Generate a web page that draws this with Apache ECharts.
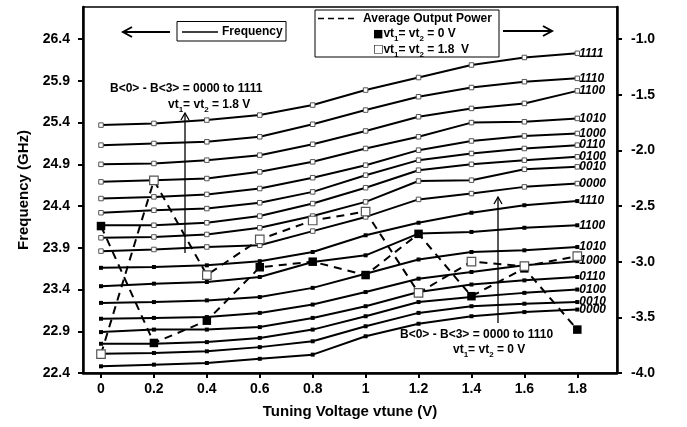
<!DOCTYPE html>
<html>
<head>
<meta charset="utf-8">
<script src="https://cdn.jsdelivr.net/npm/echarts@6/dist/echarts.min.js"></script>
<style>html,body{margin:0;padding:0;background:#fff}#c{width:687px;height:427px}</style>
</head>
<body>
<div id="c"></div>
<script>
// ---- data ----
const tuneV = [0, 0.2, 0.4, 0.6, 0.8, 1.0, 1.2, 1.4, 1.6, 1.8];
const freqTicks = [22.4, 22.9, 23.4, 23.9, 24.4, 24.9, 25.4, 25.9, 26.4];
const powerTicks = [-4.0, -3.5, -3.0, -2.5, -2.0, -1.5, -1.0];

// Frequency (GHz), vt1 = vt2 = 1.8 V (hollow markers)
const f18_1111 = [25.37, 25.39, 25.43, 25.49, 25.61, 25.79, 25.94, 26.09, 26.18, 26.23];
const f18_1110 = [25.13, 25.15, 25.17, 25.23, 25.38, 25.55, 25.71, 25.82, 25.89, 25.93];
const f18_1100 = [24.90, 24.91, 24.95, 25.01, 25.14, 25.30, 25.47, 25.57, 25.63, 25.78];
const f18_1010 = [24.69, 24.71, 24.73, 24.81, 24.93, 25.09, 25.23, 25.40, 25.41, 25.45];
const f18_1000 = [24.49, 24.51, 24.54, 24.61, 24.74, 24.89, 25.07, 25.18, 25.24, 25.27];
const f18_0110 = [24.32, 24.35, 24.37, 24.44, 24.57, 24.77, 24.95, 25.03, 25.09, 25.13];
const f18_0100 = [24.17, 24.17, 24.20, 24.28, 24.43, 24.62, 24.83, 24.90, 24.95, 24.99];
const f18_0010 = [24.02, 24.03, 24.06, 24.14, 24.28, 24.45, 24.70, 24.71, 24.84, 24.87];
const f18_0000 = [23.86, 23.88, 23.91, 23.93, 24.10, 24.27, 24.48, 24.55, 24.63, 24.67];

// Frequency (GHz), vt1 = vt2 = 0 V (filled markers)
const f0_1110 = [23.66, 23.67, 23.69, 23.74, 23.85, 24.05, 24.20, 24.32, 24.41, 24.46];
const f0_1100 = [23.44, 23.47, 23.49, 23.55, 23.73, 23.81, 24.07, 24.09, 24.14, 24.17];
const f0_1010 = [23.24, 23.25, 23.27, 23.31, 23.42, 23.59, 23.76, 23.85, 23.87, 23.91];
const f0_1000 = [23.05, 23.06, 23.07, 23.12, 23.22, 23.37, 23.53, 23.61, 23.69, 23.74];
const f0_0110 = [22.89, 22.92, 22.92, 22.95, 23.06, 23.20, 23.37, 23.46, 23.51, 23.55];
const f0_0100 = [22.75, 22.75, 22.77, 22.82, 22.92, 23.08, 23.25, 23.31, 23.36, 23.40];
const f0_0010 = [22.63, 22.64, 22.66, 22.71, 22.78, 22.96, 23.12, 23.20, 23.23, 23.25];
const f0_0000 = [22.48, 22.50, 22.52, 22.57, 22.62, 22.84, 22.99, 23.08, 23.13, 23.16];

// Average output power (right axis)
const powVt0 = [-2.68, -3.73, -3.53, -3.05, -3.00, -3.12, -2.75, -3.31, -3.06, -3.61];
const powVt18 = [-3.83, -2.27, -3.12, -2.80, -2.63, -2.55, -3.28, -3.00, -3.04, -2.95];

const hiLines = [['1111', f18_1111], ['1110', f18_1110], ['1100', f18_1100], ['1010', f18_1010],
  ['1000', f18_1000], ['0110', f18_0110], ['0100', f18_0100], ['0010', f18_0010], ['0000', f18_0000]];
const loLines = [['1110', f0_1110], ['1100', f0_1100], ['1010', f0_1010], ['1000', f0_1000],
  ['0110', f0_0110], ['0100', f0_0100], ['0010', f0_0010], ['0000', f0_0000]];

// ---- chart ----
const FF = '"Liberation Sans", Arial, sans-serif';
const pairs = ys => tuneV.map((x, i) => [x, ys[i]]);

function freqSeries(code, ys, hollow) {
  return {
    type: 'line', name: (hollow ? 'f18_' : 'f0_') + code, yAxisIndex: 0,
    data: pairs(ys), symbol: 'rect', symbolSize: hollow ? 4.5 : 4,
    showSymbol: true,
    lineStyle: { color: '#000', width: 2 },
    itemStyle: hollow ? { color: '#fff', borderColor: '#555', borderWidth: 1 } : { color: '#000' },
    endLabel: { show: true, formatter: code, color: '#000', fontStyle: 'italic', fontWeight: 'bold',
      fontSize: 12, fontFamily: FF, distance: 2 },
    z: 2, silent: true
  };
}

const series = [];
hiLines.forEach(([c, d]) => series.push(freqSeries(c, d, true)));
loLines.forEach(([c, d]) => series.push(freqSeries(c, d, false)));
series.push({
  type: 'line', name: 'pow0', yAxisIndex: 1, data: pairs(powVt0), symbol: 'rect', symbolSize: 8.5,
  lineStyle: { color: '#000', width: 2, type: [8, 6] }, itemStyle: { color: '#000' }, z: 5
});
series.push({
  type: 'line', name: 'pow18', yAxisIndex: 1, data: pairs(powVt18), symbol: 'rect', symbolSize: 8.5,
  lineStyle: { color: '#000', width: 2, type: [8, 6] },
  itemStyle: { color: '#fff', borderColor: '#555', borderWidth: 1.2 }, z: 5
});

const rich = {
  b: { fontSize: 12, fontWeight: 'bold', fontFamily: FF, color: '#000', lineHeight: 14 },
  s: { fontSize: 8, fontWeight: 'bold', fontFamily: FF, color: '#000', lineHeight: 14, verticalAlign: 'bottom', padding: [0, 0, -2, 0] },
  m: { fontSize: 11, fontFamily: 'DejaVu Sans', color: '#000', lineHeight: 14 }
};
function txt(x, y, text, align) {
  return { type: 'text', x: x, y: y, silent: true,
    style: { text: text, rich: rich, align: align || 'left', verticalAlign: 'middle' } };
}
function arrowH(x1, x2, y) {
  const d = x2 > x1 ? -1 : 1;
  return [
    { type: 'line', shape: { x1: x1, y1: y, x2: x2, y2: y }, style: { stroke: '#000', lineWidth: 2 } },
    { type: 'polyline', shape: { points: [[x2 + d * 9, y - 5], [x2, y], [x2 + d * 9, y + 5]] }, style: { stroke: '#000', lineWidth: 2, fill: null } }
  ];
}
function arrowV(x, y1, y2) {
  return [
    { type: 'line', shape: { x1: x, y1: y1, x2: x, y2: y2 }, style: { stroke: '#000', lineWidth: 1.3 } },
    { type: 'polyline', shape: { points: [[x - 4, y2 + 7], [x, y2], [x + 4, y2 + 7]] }, style: { stroke: '#000', lineWidth: 1.3, fill: null } }
  ];
}

const graphics = [
  // Frequency legend
  { type: 'rect', shape: { x: 177, y: 21.5, width: 109, height: 19.5 }, style: { fill: '#fff', stroke: '#000', lineWidth: 1 }, z: 10 },
  { type: 'line', shape: { x1: 182, y1: 32, x2: 218, y2: 32 }, style: { stroke: '#000', lineWidth: 1.5 }, z: 11 },
  Object.assign(txt(222, 32, '{b|Frequency}'), { z: 11 }),
  // Power legend
  { type: 'rect', shape: { x: 315, y: 10, width: 184, height: 47 }, style: { fill: '#fff', stroke: '#000', lineWidth: 1 }, z: 10 },
  { type: 'line', shape: { x1: 318, y1: 18.5, x2: 358, y2: 18.5 }, style: { stroke: '#000', lineWidth: 1.5, lineDash: [6, 4] }, z: 11 },
  Object.assign(txt(363, 18.5, '{b|Average Output Power}'), { z: 11 }),
  Object.assign(txt(373, 34, '{m|■}{b|vt}{s|1}{b|= vt}{s|2}{b| = 0 V}'), { z: 11 }),
  Object.assign(txt(373, 49.5, '{m|□}{b|vt}{s|1}{b|= vt}{s|2}{b| = 1.8  V}'), { z: 11 }),
  // annotations
  txt(110, 89, '{b|B<0> - B<3> = 0000 to 1111}'),
  txt(168, 105, '{b|vt}{s|1}{b|= vt}{s|2}{b| = 1.8 V}'),
  txt(400, 335, '{b|B<0> - B<3> = 0000 to 1110}'),
  txt(453, 350, '{b|vt}{s|1}{b|= vt}{s|2}{b| = 0 V}')
].concat(arrowH(170, 123, 32), arrowH(503, 552, 31), arrowV(185, 253, 113), arrowV(498, 323, 197));

const chart = echarts.init(document.getElementById('c'), null, { renderer: 'canvas' });
chart.setOption({
  animation: false,
  backgroundColor: '#fff',
  grid: { left: 83, right: 70, top: 7, bottom: 54, show: true, borderColor: '#000', borderWidth: 1.5, containLabel: false },
  xAxis: {
    type: 'value', min: -0.068, max: 1.95,
    axisLine: { onZero: false, lineStyle: { color: '#000', width: 2.5 } },
    axisTick: { customValues: tuneV, length: 5, lineStyle: { color: '#000', width: 2 } },
    axisLabel: { customValues: tuneV, color: '#000', fontSize: 14, fontWeight: 'bold', fontFamily: FF, margin: 9 },
    splitLine: { show: false },
    name: 'Tuning Voltage vtune (V)', nameLocation: 'middle', nameGap: 31,
    nameTextStyle: { color: '#000', fontSize: 15, fontWeight: 'bold', fontFamily: FF }
  },
  yAxis: [
    {
      type: 'value', min: 22.4, max: 26.785, position: 'left',
      axisLine: { show: true, onZero: false, lineStyle: { color: '#000', width: 2.5 } },
      axisTick: { show: true, customValues: freqTicks, length: 5, lineStyle: { color: '#000', width: 2 } },
      axisLabel: { customValues: freqTicks, color: '#000', fontSize: 14, fontWeight: 'bold', fontFamily: FF, margin: 13,
        formatter: v => Number(v).toFixed(1) },
      splitLine: { show: false },
      name: 'Frequency (GHz)', nameLocation: 'middle', nameGap: 50,
      nameTextStyle: { color: '#000', fontSize: 15, fontWeight: 'bold', fontFamily: FF }
    },
    {
      type: 'value', min: -4, max: -0.712, position: 'right',
      axisLine: { show: true, onZero: false, lineStyle: { color: '#000', width: 2.5 } },
      axisTick: { show: true, customValues: powerTicks, length: 5, lineStyle: { color: '#000', width: 2 } },
      axisLabel: { customValues: powerTicks, color: '#000', fontSize: 14, fontWeight: 'bold', fontFamily: FF, margin: 14,
        formatter: v => Number(v).toFixed(1) },
      splitLine: { show: false }
    }
  ],
  series: series,
  graphic: graphics
});
</script>
</body>
</html>
